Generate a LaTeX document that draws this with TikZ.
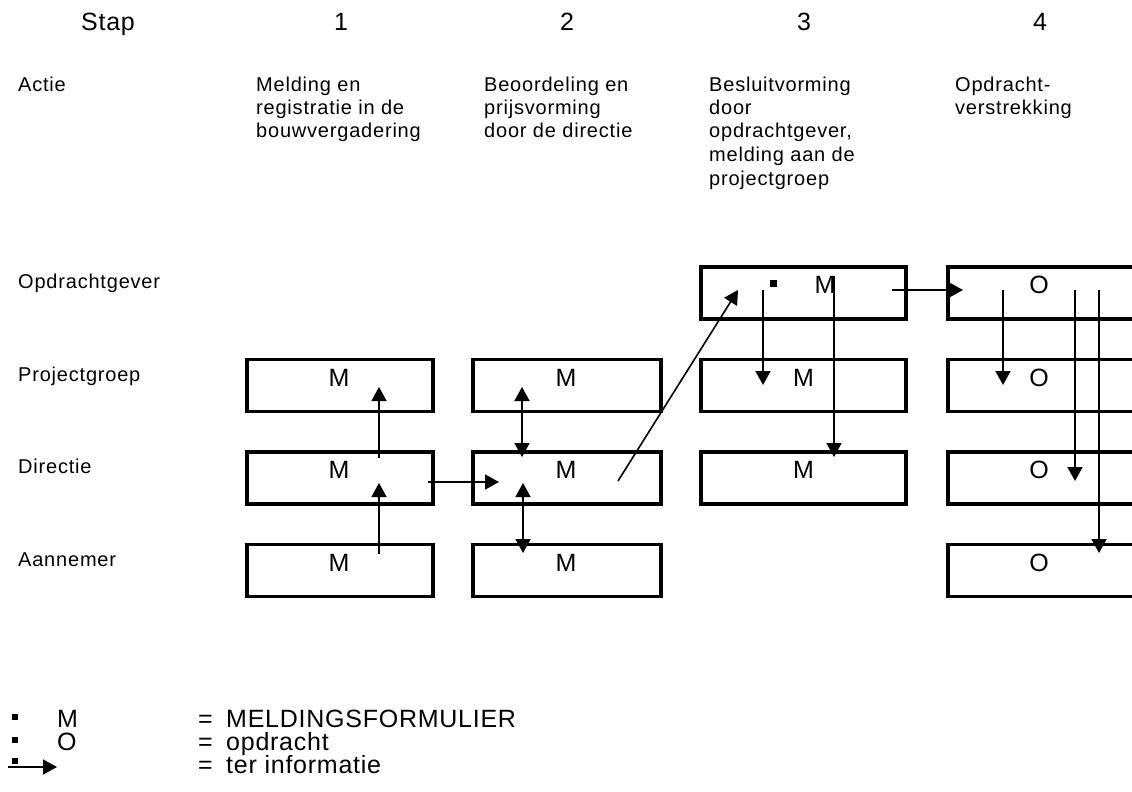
\documentclass[tikz,border=0pt]{standalone}
\usepackage{fontspec}
\setmainfont{Liberation Sans}
\newfontfamily\bodyfont[LetterSpace=4]{Liberation Sans}
\newfontfamily\bigfont[LetterSpace=3]{Liberation Sans}
\usetikzlibrary{arrows.meta,calc}
\tikzset{
  body/.style={font=\bodyfont\fontsize{20}{23.5}\selectfont, inner sep=0pt, anchor=base west},
  big/.style={font=\bigfont\fontsize{25}{28}\selectfont, inner sep=0pt},
  box/.style={draw, line width=3.8pt, minimum height=52pt, inner sep=0pt},
  col1/.style={box, minimum width=186pt},
  col2/.style={box, minimum width=188pt},
  col3/.style={box, minimum width=205pt},
  col4/.style={box, minimum width=186pt},
  sq/.style={fill, minimum size=7pt, inner sep=0pt},
  arr/.style={line width=1.6pt, -{Triangle[length=14pt,width=15pt]}},
  darr/.style={line width=1.6pt, {Triangle[length=14pt,width=15pt]}-{Triangle[length=14pt,width=15pt]}},
}
\begin{document}
\begin{tikzpicture}[x=1pt,y=-1pt]
\useasboundingbox (0,0) rectangle (1132,792);
\clip (0,0) rectangle (1132,792);

% header
\node[big, anchor=base west] (stap) at (81,31) {Stap};
\node[big, anchor=base] (n1) at (341,31) {1};
\node[big, anchor=base] (n2) at (567,31) {2};
\node[big, anchor=base] (n3) at (804,31) {3};
\node[big, anchor=base] (n4) at (1040,31) {4};

\node[body] (actie) at (18,91) {Actie};
\node[body] (t1) at (256,91) {\parbox[t]{200pt}{Melding en\\registratie in de\\bouwvergadering}};
\node[body] (t2) at (484,91) {\parbox[t]{200pt}{Beoordeling en\\prijsvorming\\door de directie}};
\node[body] (t3) at (709,91) {\parbox[t]{220pt}{Besluitvorming\\door\\opdrachtgever,\\melding aan de\\projectgroep}};
\node[body] (t4) at (955,91) {\parbox[t]{180pt}{Opdracht-\\verstrekking}};

% row labels
\node[body] (lo) at (18,288) {Opdrachtgever};
\node[body] (lp) at (18,381) {Projectgroep};
\node[body] (ld) at (18,473) {Directie};
\node[body] (la) at (18,566) {Aannemer};

% boxes
\node[col1] (p1) at (340,385.5) {};
\node[col1] (d1) at (340,478) {};
\node[col1] (a1) at (340,570.5) {};
\node[col2] (p2) at (567,385.5) {};
\node[col2] (d2) at (567,478) {};
\node[col2] (a2) at (567,570.5) {};
\node[col3] (o3) at (803.5,293) {};
\node[col3] (p3) at (803.5,385.5) {};
\node[col3] (d3) at (803.5,478) {};
\node[col4] (o4) at (1041,293) {};
\node[col4] (p4) at (1041,385.5) {};
\node[col4] (d4) at (1041,478) {};
\node[col4] (a4) at (1041,570.5) {};

% letters
\node[big] (mp1) at ($(p1.center)+(-1,-8)$) {M};
\node[big] (md1) at ($(d1.center)+(-1,-8)$) {M};
\node[big] (ma1) at ($(a1.center)+(-1,-8)$) {M};
\node[big] (mp2) at ($(p2.center)+(-1,-8)$) {M};
\node[big] (md2) at ($(d2.center)+(-1,-8)$) {M};
\node[big] (ma2) at ($(a2.center)+(-1,-8)$) {M};
\node[big] (mo3) at ($(o3.center)+(21.5,-8)$) {M};
\node[big] (mp3) at ($(p3.center)+(0,-8)$) {M};
\node[big] (md3) at ($(d3.center)+(0,-8)$) {M};
\node[big] (oo4) at ($(o4.center)+(-2,-8)$) {O};
\node[big] (op4) at ($(p4.center)+(-2,-8)$) {O};
\node[big] (od4) at ($(d4.center)+(-2,-8)$) {O};
\node[big] (oa4) at ($(a4.center)+(-2,-8)$) {O};

\node[sq] (dot3) at (773,283) {};

% connector end points
\coordinate (s1) at (379,458);  \coordinate (e1) at (379,387);
\coordinate (s2) at (379,554);  \coordinate (e2) at (379,483);
\coordinate (s3) at (428,482);  \coordinate (e3) at (499,482);
\coordinate (s4) at (522,387);  \coordinate (e4) at (522,457);
\coordinate (s5) at (523,483);  \coordinate (e5) at (523,553);
\coordinate (s6) at (618,481);  \coordinate (e6) at (738,290);
\coordinate (s7) at (763,290);  \coordinate (e7) at (763,385);
\coordinate (s8) at (834,276);  \coordinate (e8) at (834,457);
\coordinate (s9) at (892,290);  \coordinate (e9) at (963,290);
\coordinate (s10) at (1003,290); \coordinate (e10) at (1003,385);
\coordinate (s11) at (1075,290); \coordinate (e11) at (1075,481);
\coordinate (s12) at (1099,290); \coordinate (e12) at (1099,553);

\draw[arr] (s1) -- (e1);
\draw[arr] (s2) -- (e2);
\draw[arr] (s3) -- (e3);
\draw[darr] (s4) -- (e4);
\draw[darr] (s5) -- (e5);
\draw[arr] (s6) -- (e6);
\draw[arr] (s7) -- (e7);
\draw[arr] (s8) -- (e8);
\draw[arr] (s9) -- (e9);
\draw[arr] (s10) -- (e10);
\draw[arr] (s11) -- (e11);
\draw[arr] (s12) -- (e12);

% legend
\node[sq, minimum size=6pt] (b1) at (15,717) {};
\node[sq, minimum size=6pt] (b2) at (15,740) {};
\node[big, anchor=base west] (lm) at (57,727) {M};
\node[big, anchor=base west] (lO) at (57,750) {O};
\node[big, anchor=base west] (q1) at (198,727) {=};
\node[big, anchor=base west] (q2) at (198,750) {=};
\node[big, anchor=base west] (q3) at (198,773) {=};
\node[big, anchor=base west] (lt1) at (226,727) {MELDINGSFORMULIER};
\node[big, anchor=base west] (lt2) at (226,750) {opdracht};
\node[big, anchor=base west] (lt3) at (226,773) {ter informatie};
\node[sq, minimum size=6pt] (b3) at (15,761) {};
\coordinate (ls) at (8,767); \coordinate (le) at (57,767);
\draw[arr] (ls) -- (le);
\end{tikzpicture}
\end{document}
